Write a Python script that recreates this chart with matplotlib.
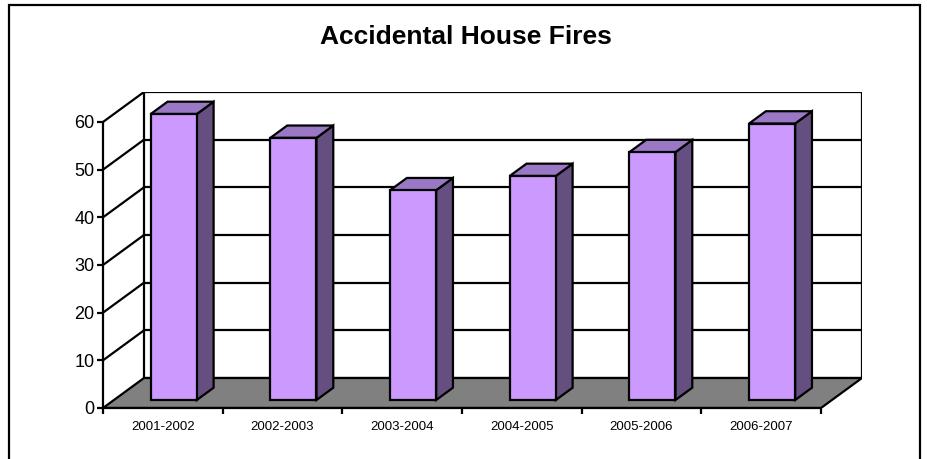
import matplotlib
matplotlib.use('Agg')
import matplotlib.pyplot as plt
from matplotlib.patches import Polygon, Rectangle

# ---- data ----
seasons = ['2001-2002', '2002-2003', '2003-2004', '2004-2005', '2005-2006', '2006-2007']
fires = [60, 55, 44, 47, 52, 58]
y_ticks = [0, 10, 20, 30, 40, 50, 60]

# ---- oblique 3D look (depth offset in data units) ----
DX, DY = 0.3425, 6.29      # full depth of the floor/walls
Z0, Z1 = 0.267, 0.677      # depth span of each column
BAR_W = 0.385
LW = 1.6

FRONT = '#CC99FF'
TOP = '#9A78C6'
SIDE = '#654F80'
FLOOR = '#808080'

plt.rcParams['font.family'] = ['Liberation Sans', 'DejaVu Sans']

W, H = 927, 459
fig = plt.figure(figsize=(W / 100, H / 100), dpi=100)
ax = fig.add_axes([103 / W, 51 / H, 759 / W, 316 / H])
n = len(seasons)
ymax = y_ticks[-1]
ax.set_xlim(0, n + DX)
ax.set_ylim(0, ymax + DY)
ax.patch.set_visible(False)

# back wall + gridlines
ax.add_patch(Rectangle((DX, DY), n, ymax, fc='white', ec='black', lw=LW, zorder=1))
for v in y_ticks[1:-1]:
    ax.plot([DX, n + DX], [v + DY, v + DY], color='black', lw=LW, zorder=1.1)

# side wall diagonals
for v in y_ticks[1:]:
    ax.plot([0, DX], [v, v + DY], color='black', lw=LW, zorder=1.1, solid_capstyle='round')

# floor
ax.add_patch(Polygon([(0, 0), (n, 0), (n + DX, DY), (DX, DY)], closed=True,
                     fc=FLOOR, ec='black', lw=LW, zorder=1.2))

# columns
ddx, ddy = DX * (Z1 - Z0), DY * (Z1 - Z0)
for i, v in enumerate(fires):
    x0 = i + 0.5 - BAR_W / 2 + DX * Z0
    y0 = DY * Z0
    x1, y1 = x0 + BAR_W, y0 + v
    ax.add_patch(Polygon([(x1, y0), (x1 + ddx, y0 + ddy), (x1 + ddx, y1 + ddy), (x1, y1)],
                         closed=True, fc=SIDE, ec='black', lw=LW, zorder=2, joinstyle='miter'))
    ax.add_patch(Polygon([(x0, y1), (x1, y1), (x1 + ddx, y1 + ddy), (x0 + ddx, y1 + ddy)],
                         closed=True, fc=TOP, ec='black', lw=LW, zorder=2, joinstyle='miter'))
    ax.add_patch(Rectangle((x0, y0), BAR_W, v, fc=FRONT, ec='black', lw=LW, zorder=2.1,
                           joinstyle='miter'))

# axes
for s in ('top', 'right'):
    ax.spines[s].set_visible(False)
ax.spines['left'].set_bounds(0, ymax)
ax.spines['bottom'].set_bounds(0, n)
for s in ('left', 'bottom'):
    ax.spines[s].set_linewidth(LW)
    ax.spines[s].set_zorder(3)

ax.set_yticks(y_ticks)
ax.tick_params(axis='y', direction='out', length=4, width=LW, pad=2, labelsize=13)
ax.set_xticks(range(n + 1))
ax.set_xticklabels([])
ax.set_xticks([i + 0.5 for i in range(n)], minor=True)
ax.set_xticklabels(seasons, minor=True)
ax.tick_params(axis='x', which='major', direction='out', length=4.5, width=LW)
ax.tick_params(axis='x', which='minor', length=0, pad=9, labelsize=9.5)

fig.text(466 / W, 1 - 37 / H, 'Accidental House Fires', ha='center', va='center',
         fontsize=19, fontweight='bold')

# chart area frame
fig.patches.append(Rectangle((9 / W, -0.05), 911 / W, 1 - 5 / H + 0.05,
                             transform=fig.transFigure, fill=False, ec='black', lw=LW))

fig.savefig('out.png', dpi=100)
